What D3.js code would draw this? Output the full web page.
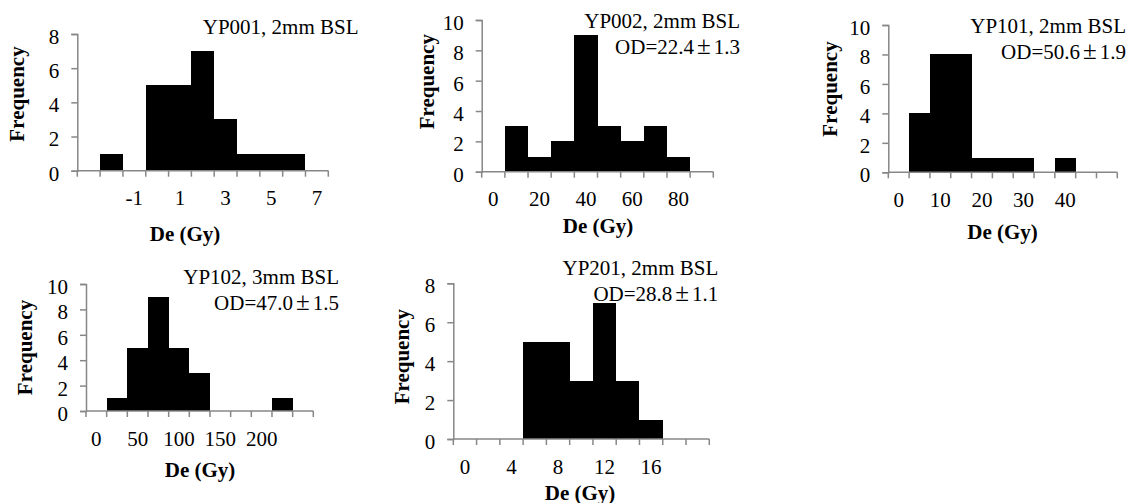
<!DOCTYPE html>
<html>
<head>
<meta charset="utf-8">
<script src="https://cdn.jsdelivr.net/npm/d3@7"></script>
<style>
  html, body { margin: 0; padding: 0; background: #fff; }
  svg { display: block; }
</style>
</head>
<body>
<svg id="chart" width="1129" height="503"></svg>
<script>
// ---------------- DATA ----------------
const bins1 = ["-3", "-2", "-1", "0", "1", "2", "3", "4", "5", "6", "7"];
const counts1 = [0, 1, 0, 5, 5, 7, 3, 1, 1, 1, 0];
const ticks1 = ["-1", "1", "3", "5", "7"];

const bins2 = ["0", "10", "20", "30", "40", "50", "60", "70", "80", "90"];
const counts2 = [0, 3, 1, 2, 9, 3, 2, 3, 1, 0];
const ticks2 = ["0", "20", "40", "60", "80"];

const bins3 = ["0", "5", "10", "15", "20", "25", "30", "35", "40", "45", "50"];
const counts3 = [0, 4, 8, 8, 1, 1, 1, 0, 1, 0, 0];
const ticks3 = ["0", "10", "20", "30", "40"];

const bins4 = ["0", "25", "50", "75", "100", "125", "150", "175", "200", "225", "250"];
const counts4 = [0, 1, 5, 9, 5, 3, 0, 0, 0, 1, 0];
const ticks4 = ["0", "50", "100", "150", "200"];

const bins5 = ["0", "2", "4", "6", "8", "10", "12", "14", "16", "18", "20"];
const counts5 = [0, 0, 0, 5, 5, 3, 7, 3, 1, 0, 0];
const ticks5 = ["0", "4", "8", "12", "16"];

const yMax = [8, 10, 10, 10, 8];
const titles = ["YP001, 2mm BSL", "YP002, 2mm BSL", "YP101, 2mm BSL", "YP102, 3mm BSL", "YP201, 2mm BSL"];
const odValues = [null, ["22.4", "1.3"], ["50.6", "1.9"], ["47.0", "1.5"], ["28.8", "1.1"]];
const xTitle = "De (Gy)";
const yTitle = "Frequency";

// ---------------- LAYOUT ----------------
const layout = [
  { x0: 77.3,  x1: 328.3,  yb: 170.7, yt: 34,    titleX: 358.5, titleY: 34,    xtX: 185,    xtY: 240.5, ytX: 24,  ytY: 94 },
  { x0: 481.7, x1: 713.3,  yb: 171.7, yt: 20,    titleX: 740,   titleY: 28,    xtX: 598,    xtY: 233,   ytX: 434, ytY: 81.7 },
  { x0: 888.3, x1: 1117.3, yb: 172.3, yt: 25,    titleX: 1126,  titleY: 33,    xtX: 1002.5, xtY: 239,   ytX: 837, ytY: 89 },
  { x0: 86,    x1: 313.3,  yb: 411,   yt: 284,   titleX: 339,   titleY: 284.3, xtX: 200,    xtY: 476.7, ytX: 32,  ytY: 347.5 },
  { x0: 453.3, x1: 709.3,  yb: 439,   yt: 283.3, titleX: 718.3, titleY: 275,   xtX: 580,    xtY: 499.5, ytX: 409, ytY: 356.7 }
];

const panels = [
  { bins: bins1, counts: counts1, ticks: ticks1 },
  { bins: bins2, counts: counts2, ticks: ticks2 },
  { bins: bins3, counts: counts3, ticks: ticks3 },
  { bins: bins4, counts: counts4, ticks: ticks4 },
  { bins: bins5, counts: counts5, ticks: ticks5 }
];

const FS = 21;
const SERIF = "'Liberation Serif', 'Times New Roman', serif";
const axisColor = "#878787";
const svg = d3.select("#chart");

panels.forEach((p, i) => {
  const L = layout[i];
  const g = svg.append("g");
  const x = d3.scaleBand().domain(p.bins).range([L.x0, L.x1]).paddingInner(0).paddingOuter(0);
  const y = d3.scaleLinear().domain([0, yMax[i]]).range([L.yb, L.yt]);

  // bars
  g.selectAll("rect.bar").data(p.bins.map((b, k) => ({ b, v: p.counts[k] })).filter(d => d.v > 0))
    .join("rect")
    .attr("class", "bar")
    .attr("x", d => x(d.b))
    .attr("width", x.bandwidth())
    .attr("y", d => y(d.v))
    .attr("height", d => y(0) - y(d.v))
    .attr("fill", "#000")
    .attr("shape-rendering", "crispEdges");

  // y axis
  const yAxis = d3.axisLeft(y).tickValues(d3.range(0, yMax[i] + 1, 2)).tickSize(6).tickPadding(12);
  const ya = g.append("g").attr("transform", `translate(${L.x0},0)`).call(yAxis);
  ya.select(".domain").attr("stroke", axisColor).attr("stroke-width", 1.5);
  ya.selectAll(".tick line").attr("stroke", axisColor).attr("stroke-width", 1.5);
  ya.selectAll(".tick text")
    .style("font-size", FS + "px")
    .style("font-family", SERIF)
    .attr("fill", "#000")
    .attr("dy", "0.45em");

  // x axis: line + boundary ticks
  const boundaries = p.bins.map(b => x(b)).concat([x(p.bins[p.bins.length - 1]) + x.bandwidth()]);
  g.append("line")
    .attr("x1", L.x0).attr("x2", L.x1).attr("y1", y(0)).attr("y2", y(0))
    .attr("stroke", axisColor).attr("stroke-width", 1.5);
  g.selectAll("line.xt").data(boundaries).join("line")
    .attr("class", "xt")
    .attr("x1", d => d).attr("x2", d => d)
    .attr("y1", y(0)).attr("y2", y(0) + 6)
    .attr("stroke", axisColor).attr("stroke-width", 1.5);
  g.selectAll("text.xl").data(p.ticks).join("text")
    .attr("class", "xl")
    .attr("x", d => x(d) + x.bandwidth() / 2)
    .attr("y", y(0) + 34.5)
    .attr("text-anchor", "middle")
    .style("font-size", FS + "px").style("font-family", SERIF)
    .text(d => d);

  // axis titles
  g.append("text")
    .attr("x", L.xtX).attr("y", L.xtY)
    .attr("text-anchor", "middle")
    .style("font-size", FS + "px").style("font-family", SERIF).style("font-weight", "bold")
    .text(xTitle);
  g.append("text")
    .attr("transform", `translate(${L.ytX},${L.ytY}) rotate(-90)`)
    .attr("text-anchor", "middle")
    .style("font-size", FS + "px").style("font-family", SERIF).style("font-weight", "bold")
    .text(yTitle);

  // panel title
  g.append("text")
    .attr("x", L.titleX).attr("y", L.titleY)
    .attr("text-anchor", "end")
    .style("font-size", FS + "px").style("font-family", SERIF)
    .text(titles[i]);
  if (odValues[i]) {
    const t = g.append("text")
      .attr("x", L.titleX).attr("y", L.titleY + 26)
      .attr("text-anchor", "end")
      .style("font-size", FS + "px").style("font-family", SERIF);
    t.append("tspan").text("OD=" + odValues[i][0]);
    t.append("tspan").attr("dx", 3).style("font-size", "25px").text("±");
    t.append("tspan").attr("dx", 3).style("font-size", FS + "px").text(odValues[i][1]);
  }
});
</script>
</body>
</html>
